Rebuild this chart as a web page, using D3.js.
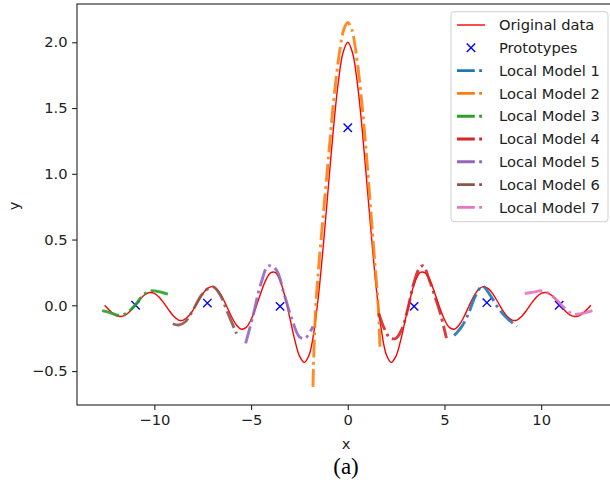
<!DOCTYPE html>
<html><head><meta charset="utf-8">
<script src="https://cdn.jsdelivr.net/npm/d3@7"></script>
<style>body{margin:0;background:#fff}svg{display:block}</style>
</head><body><svg id="c" width="610" height="482"></svg>
<script>
// ---- data ----
const origX = [-12.566,-12.5,-12.25,-12,-11.75,-11.5,-11.25,-11,-10.75,-10.5,-10.25,-10,-9.75,-9.5,-9.25,-9,-8.75,-8.5,-8.25,-8,-7.75,-7.5,-7.25,-7,-6.75,-6.5,-6.25,-6,-5.75,-5.5,-5.25,-5,-4.75,-4.5,-4.25,-4,-3.75,-3.5,-3.25,-3,-2.75,-2.5,-2.25,-2,-1.75,-1.5,-1.25,-1,-0.75,-0.5,-0.25,
  0,0.25,0.5,0.75,1,1.25,1.5,1.75,2,2.25,2.5,2.75,3,3.25,3.5,3.75,4,4.25,4.5,4.75,5,5.25,5.5,5.75,6,6.25,6.5,6.75,7,7.25,7.5,7.75,8,8.25,8.5,8.75,9,9.25,9.5,9.75,10,10.25,10.5,10.75,11,11.25,11.5,11.75,12,12.25,12.5,12.566];
const origY = [0.0,-0.011,-0.048,-0.076,-0.085,-0.074,-0.043,-0.001,0.044,0.080,0.097,0.091,0.062,0.016,-0.037,-0.083,-0.112,-0.113,-0.086,-0.036,0.027,0.087,0.129,0.142,0.119,0.065,-0.011,-0.089,-0.152,-0.182,-0.168,-0.109,-0.016,0.092,0.188,0.247,0.250,0.188,0.066,-0.093,-0.257,-0.384,-0.434,-0.378,-0.200,0.094,0.479,0.909,1.330,1.683,1.918,
  2.0,1.918,1.683,1.330,0.909,0.479,0.094,-0.200,-0.378,-0.434,-0.384,-0.257,-0.093,0.066,0.188,0.250,0.247,0.188,0.092,-0.016,-0.109,-0.168,-0.182,-0.152,-0.089,-0.011,0.065,0.119,0.142,0.129,0.087,0.027,-0.036,-0.086,-0.113,-0.112,-0.083,-0.037,0.016,0.062,0.091,0.097,0.080,0.044,-0.001,-0.043,-0.074,-0.085,-0.076,-0.048,-0.011,0.0];

const protoX = [-10.97,-7.26,-3.50,0.0,3.43,7.19,10.93];
const protoY = [0.0,0.017,-0.008,1.35,-0.008,0.02,0.0];

const m1X = [5.5,5.9,6.25,6.6,6.95,7.35,7.8,8.25,8.75];
const m1Y = [-0.23,-0.16,-0.06,0.07,0.145,0.08,-0.025,-0.10,-0.16];
const m2X = [-1.8,-1.74,-1.65,-1.5,-1.35,-1.2,-1.0,-0.8,-0.6,-0.4,-0.2,0,0.2,0.4,0.6,0.8,1.0,1.2,1.4,1.55,1.62,1.67];
const m2Y = [-0.62,-0.3,0.0,0.3,0.55,0.8,1.12,1.45,1.73,1.95,2.10,2.15,2.10,1.95,1.72,1.43,1.08,0.70,0.32,0.05,-0.15,-0.34];
const m3X = [-12.7,-12.3,-11.9,-11.5,-11.0,-10.6,-10.2,-9.8,-9.3];
const m3Y = [-0.04,-0.055,-0.075,-0.065,0.0,0.075,0.11,0.105,0.085];
const m4X = [1.6,1.9,2.2,2.5,2.8,3.1,3.4,3.7,3.9,4.2,4.5,4.8,5.1];
const m4Y = [-0.06,-0.18,-0.25,-0.25,-0.18,-0.03,0.16,0.28,0.30,0.20,0.07,-0.07,-0.25];
const m5X = [-5.28,-4.9,-4.5,-4.1,-3.7,-3.3,-2.9,-2.5,-2.2,-1.8];
const m5Y = [-0.29,-0.08,0.16,0.30,0.27,0.09,-0.10,-0.24,-0.25,-0.16];
const m6X = [-9.05,-8.75,-8.4,-8.0,-7.6,-7.3,-6.95,-6.6,-6.2,-5.75];
const m6Y = [-0.14,-0.15,-0.125,-0.035,0.07,0.12,0.14,0.08,-0.06,-0.215];
const m7X = [9.15,9.6,10.0,10.4,10.8,11.2,11.6,12.0,12.3,12.65];
const m7Y = [0.09,0.10,0.11,0.09,0.04,-0.02,-0.065,-0.065,-0.055,-0.04];

const modelNames = ["Local Model 1","Local Model 2","Local Model 3","Local Model 4","Local Model 5","Local Model 6","Local Model 7"];
const modelColors = ["#1f77b4","#ff7f0e","#2ca02c","#d62728","#9467bd","#8c564b","#e377c2"];
const xTicks = [-10,-5,0,5,10];
const xTickLabels = ["\u221210","\u22125","0","5","10"];
const yTicks = [-0.5,0,0.5,1,1.5,2];
const yTickLabels = ["\u22120.5","0.0","0.5","1.0","1.5","2.0"];

// ---- chart ----
const svg = d3.select("#c");
const L=77,R=617,T=4,B=405;
const x = d3.scaleLinear().domain([-14.0,13.92]).range([L,R]);
const y = d3.scaleLinear().domain([-0.758,2.291]).range([B,T]);
const fs = 14.7;
const sans = "'DejaVu Sans', sans-serif";

const line = d3.line().x(d=>x(d[0])).y(d=>y(d[1])).curve(d3.curveCatmullRom.alpha(0.5));
const zip = (a,b)=>a.map((v,i)=>[v,b[i]]);

const g = svg.append("g");
g.append("path").attr("d", line(zip(origX,origY))).attr("fill","none").attr("stroke","#ff0000").attr("stroke-width",1.4);

const models = [[m1X,m1Y],[m2X,m2Y],[m3X,m3Y],[m4X,m4Y],[m5X,m5Y],[m6X,m6Y],[m7X,m7Y]];
const dash = "17.8,4.4,2.8,4.4";

const ms = 4.2;
protoX.forEach((px,i)=>{
  const cx=x(px), cy=y(protoY[i]);
  g.append("path").attr("d",`M${cx-ms},${cy-ms}L${cx+ms},${cy+ms}M${cx-ms},${cy+ms}L${cx+ms},${cy-ms}`)
   .attr("stroke","#0000ff").attr("stroke-width",1.4).attr("fill","none");
});

models.forEach((m,i)=>{
  g.append("path").attr("d", line(zip(m[0],m[1]))).attr("fill","none")
   .attr("stroke",modelColors[i]).attr("stroke-width",2.9).attr("stroke-dasharray",dash)
   .attr("stroke-opacity",0.9);
});

// axes
const ax = svg.append("g").attr("transform",`translate(0,${B})`)
  .call(d3.axisBottom(x).tickValues(xTicks).tickFormat((d,i)=>xTickLabels[i]).tickSize(4.9).tickPadding(4.5).tickSizeOuter(0));
const ay = svg.append("g").attr("transform",`translate(${L},0)`)
  .call(d3.axisLeft(y).tickValues(yTicks).tickFormat((d,i)=>yTickLabels[i]).tickSize(4.9).tickPadding(4.5).tickSizeOuter(0));
[ax,ay].forEach(a=>{
  a.attr("font-family",null).attr("font-size",null);
  a.selectAll("text").style("font-size",fs+"px").style("font-family",sans).attr("fill","#222");
  a.selectAll("line").attr("stroke","#222").attr("stroke-width",1.1);
  a.select(".domain").remove();
});
svg.append("rect").attr("x",L).attr("y",T).attr("width",R-L).attr("height",B-T)
  .attr("fill","none").attr("stroke","#222").attr("stroke-width",1.1);

svg.append("text").attr("x",346).attr("y",449).attr("text-anchor","middle").style("font-size",fs+"px").style("font-family",sans).attr("fill","#222").text("x");
svg.append("text").attr("transform","translate(19,206) rotate(-90)").attr("text-anchor","middle").style("font-size",fs+"px").style("font-family",sans).attr("fill","#222").text("y");
svg.append("text").attr("x",346).attr("y",474).attr("text-anchor","middle").style("font-size","23px")
  .style("font-family","'Liberation Serif', 'Times New Roman', serif").attr("fill","#000").text("(a)");

// legend
const lg = svg.append("g");
lg.append("rect").attr("x",451).attr("y",11.7).attr("width",157).attr("height",210).attr("rx",3)
  .attr("fill","#fff").attr("fill-opacity",0.8).attr("stroke","#d0d0d0").attr("stroke-width",1);
const rowY = i=>25+i*22.8;
const hx0=457, hx1=485, tx=499;
const entries = ["Original data","Prototypes"].concat(modelNames);
entries.forEach((name,i)=>{
  const cy=rowY(i);
  if(i===0){
    lg.append("line").attr("x1",hx0).attr("x2",hx1).attr("y1",cy).attr("y2",cy).attr("stroke","#ff0000").attr("stroke-width",1.4);
  } else if(i===1){
    const cx=(hx0+hx1)/2;
    lg.append("path").attr("d",`M${cx-ms},${cy-ms}L${cx+ms},${cy+ms}M${cx-ms},${cy+ms}L${cx+ms},${cy-ms}`)
      .attr("stroke","#0000ff").attr("stroke-width",1.4);
  } else {
    lg.append("line").attr("x1",hx0).attr("x2",hx1).attr("y1",cy).attr("y2",cy)
      .attr("stroke",modelColors[i-2]).attr("stroke-width",2.9).attr("stroke-dasharray",dash);
  }
  lg.append("text").attr("x",tx).attr("y",cy).attr("dy","0.35em").style("font-size",fs+"px").style("font-family",sans).attr("fill","#222").text(name);
});
</script></body></html>
